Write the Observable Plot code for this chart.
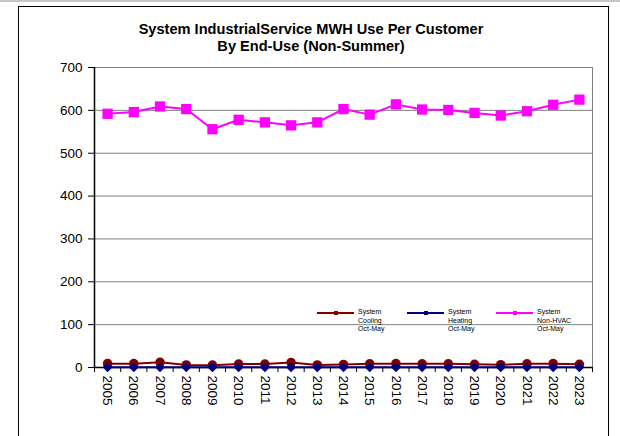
<!DOCTYPE html>
<html>
<head>
<meta charset="utf-8">
<script src="https://cdn.jsdelivr.net/npm/d3@7"></script>
<script src="https://cdn.jsdelivr.net/npm/@observablehq/plot@0.6"></script>
<style>
  html, body { margin: 0; padding: 0; background: #fff; }
  body { width: 620px; height: 436px; position: relative; overflow: hidden; font-family: "Liberation Sans", Arial, sans-serif; }
  #topline { position: absolute; left: 0; top: 0; width: 620px; height: 2px; background: #c8c8c8; }
  #border { position: absolute; left: 18px; top: 6px; width: 591px; height: 440px; border: 1px solid #000; box-sizing: border-box; }
  #chart { position: absolute; left: 0; top: 0; }
  .title { position: absolute; left: 0; width: 622px; text-align: center; font-weight: bold; font-size: 14.6px; color: #000; }
  .leg { position: absolute; font-size: 7px; line-height: 8.6px; color: #000; }
  .legline { position: absolute; height: 2px; }
</style>
</head>
<body>
<div id="topline"></div>
<div id="border"></div>
<div id="chart"></div>
<div class="title" style="top:21px">System IndustrialService MWH Use Per Customer</div>
<div class="title" style="top:38px">By End-Use (Non-Summer)</div>
<div id="legend"></div>
<script>
const years = [2005,2006,2007,2008,2009,2010,2011,2012,2013,2014,2015,2016,2017,2018,2019,2020,2021,2022,2023];
const cooling = [9,9,12,6,5.5,8,8,11.5,6,7,8.5,9,8.5,8.5,7.5,6.5,8.5,9,7.5];
const heating = [0.4,0.4,0.4,0.4,0.4,0.4,0.4,0.4,0.4,0.4,0.4,0.4,0.4,0.4,0.4,0.4,0.4,0.4,0.4];
const nonHvac = [592,596,609,603,556,578,572,565,572,603,590,614,602,601,594,588,598,613,625];
const yTicks = [0,100,200,300,400,500,600,700];
const seriesNames = ["System\nCooling\nOct-May", "System\nHeating\nOct-May", "System\nNon-HVAC\nOct-May"];
const seriesColors = ["#800000", "#000080", "#FF00FF"];

const rows = (vals) => years.map((y, i) => ({year: y, value: vals[i]}));
const dCool = rows(cooling), dHeat = rows(heating), dNon = rows(nonHvac);
const tickEdges = d3.range(years.length + 1).map(i => years[0] - 0.5 + i);

const plot = Plot.plot({
  width: 620,
  height: 436,
  marginLeft: 94,
  marginRight: 28,
  marginTop: 67,
  marginBottom: 69,
  style: {fontFamily: '"Liberation Sans", Arial, sans-serif', background: "transparent", overflow: "visible"},
  x: {domain: [years[0] - 0.5, years[years.length - 1] + 0.5]},
  y: {domain: [0, 700]},
  marks: [
    Plot.gridY(yTicks, {stroke: "#808080", strokeOpacity: 1, strokeWidth: 1}),
    Plot.ruleX([years[years.length - 1] + 0.5], {stroke: "#808080", strokeWidth: 1}),
    Plot.axisY({ticks: yTicks, tickSize: 6, tickPadding: 6, fontSize: 13.5, label: null, tickFormat: d => String(d), stroke: "#000"}),
    Plot.axisX({ticks: tickEdges, tickSize: 5, tickFormat: () => "", label: null}),
    Plot.axisX({ticks: years, tickSize: 0, tickPadding: 8, tickRotate: 90, fontSize: 13.5, tickFormat: d => String(d), label: null}),
    Plot.ruleX([years[0] - 0.5], {stroke: "#000", strokeWidth: 1.5}),
    Plot.ruleY([0], {stroke: "#000", strokeWidth: 1.5}),
    Plot.line(dCool, {x: "year", y: "value", stroke: seriesColors[0], strokeWidth: 2}),
    Plot.dot(dCool, {x: "year", y: "value", fill: seriesColors[0], r: 4.8, symbol: "circle"}),
    Plot.line(dHeat, {x: "year", y: "value", stroke: seriesColors[1], strokeWidth: 2}),
    Plot.dot(dHeat, {x: "year", y: "value", fill: seriesColors[1], r: 4.5, symbol: "diamond2"}),
    Plot.line(dNon, {x: "year", y: "value", stroke: seriesColors[2], strokeWidth: 2}),
    Plot.dot(dNon, {x: "year", y: "value", fill: seriesColors[2], r: 5.8, symbol: "square"})
  ]
});
document.getElementById("chart").appendChild(plot);

// Legend
const legend = document.getElementById("legend");
const legX = [317, 407, 496];
seriesNames.forEach((name, i) => {
  const ln = document.createElement("div");
  ln.className = "legline";
  ln.style.left = legX[i] + "px";
  ln.style.top = "312px";
  ln.style.width = "37px";
  ln.style.background = seriesColors[i];
  legend.appendChild(ln);
  const mk = document.createElement("div");
  mk.style.position = "absolute";
  mk.style.left = (legX[i] + 17) + "px";
  mk.style.top = "311px";
  mk.style.width = "4px";
  mk.style.height = "4px";
  mk.style.background = seriesColors[i];
  legend.appendChild(mk);
  const tx = document.createElement("div");
  tx.className = "leg";
  tx.style.left = (legX[i] + 41) + "px";
  tx.style.top = "308px";
  tx.innerHTML = name.split("\n").join("<br>");
  legend.appendChild(tx);
});
</script>
</body>
</html>
